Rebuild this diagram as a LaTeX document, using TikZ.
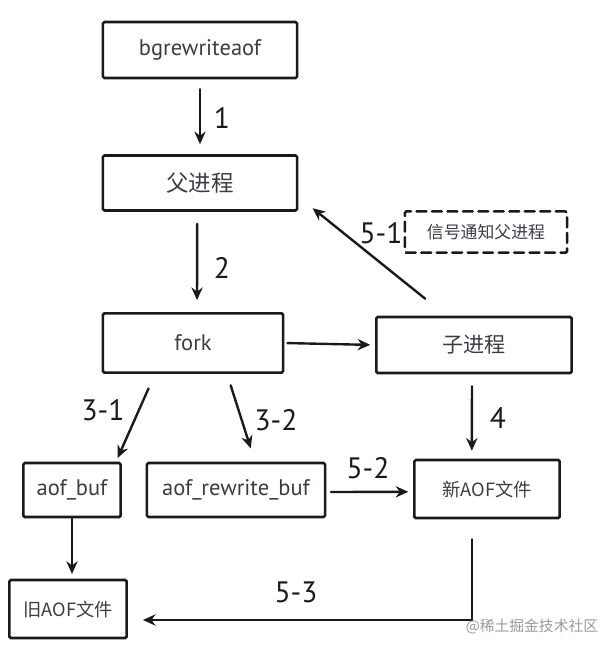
\documentclass[tikz,border=0pt]{standalone}
\usepackage{fontspec}
\setmainfont{PT Sans}
\newfontfamily\cjk{Noto Sans CJK SC}
\usetikzlibrary{arrows.meta}
\definecolor{ink}{HTML}{1A1A1A}
\definecolor{txt}{HTML}{3A3D45}
\definecolor{mark}{HTML}{9A9A9A}

\begin{document}
\begin{tikzpicture}[x=0.025cm,y=-0.025cm,>={Stealth[length=9pt,width=8pt]},line cap=round,
    box/.style={draw=ink,line width=1.8pt,rounded corners=1pt,text=txt,inner sep=0pt},
    link/.style={->,draw=ink,line width=1.7pt},
    num/.style={text=ink,font=\fontsize{21}{24}\selectfont}]
  \useasboundingbox (0,0) rectangle (600,651);
  % boxes
  \node[box,minimum width=4.85cm,minimum height=1.4cm,font=\fontsize{16}{18}\selectfont]
    (bg) at (200,50) {bgrewriteaof};
  \node[box,minimum width=4.85cm,minimum height=1.375cm,font=\cjk\fontsize{16}{18}\selectfont]
    (fa) at (200,183) {父进程};
  \node[box,minimum width=4.5cm,minimum height=1.48cm,font=\fontsize{16}{18}\selectfont]
    (fork) at (193,343) {fork};
  \node[box,minimum width=4.88cm,minimum height=1.4cm,font=\cjk\fontsize{15}{18}\selectfont]
    (zi) at (474,345) {子进程};
  \node[box,dash pattern=on 7pt off 4pt,minimum width=4.05cm,minimum height=1.03cm,
    font=\cjk\fontsize{12}{14}\selectfont] (sig) at (486,232) {信号通知父进程};
  \node[box,minimum width=2.43cm,minimum height=1.35cm,font=\fontsize{16}{18}\selectfont]
    (aofbuf) at (72,490) {aof\_buf};
  \node[box,minimum width=4.45cm,minimum height=1.35cm,font=\fontsize{16}{18}\selectfont]
    (rwbuf) at (236,490) {aof\_rewrite\_buf};
  \node[box,minimum width=3.63cm,minimum height=1.45cm,font=\cjk\fontsize{13}{15}\selectfont]
    (newaof) at (487,489) {新AOF文件};
  \node[box,minimum width=2.93cm,minimum height=1.45cm,font=\cjk\fontsize{13}{15}\selectfont]
    (oldaof) at (68,609) {旧AOF文件};

  % arrows
  \draw[link,shorten <=0.25cm,shorten >=0.25cm] (bg.south) -- (fa.north);
  \draw[link,shorten <=0.3cm,shorten >=0.3cm] ([xshift=-0.07cm]fa.south) -- ([xshift=0.1cm]fork.north);
  \draw[link,shorten <=0.08cm,shorten >=0.12cm] (fork.east) -- (zi.west);
  \draw[link,shorten <=0.4cm,shorten >=0.1cm] ([xshift=-0.95cm]fork.south) -- ([xshift=1.1cm]aofbuf.north);
  \draw[link,shorten <=0.3cm,shorten >=0.35cm] ([xshift=0.85cm]fork.south) -- ([xshift=0.475cm]rwbuf.north);
  \draw[link,shorten >=0.05cm] ([xshift=-1.22cm,yshift=0.425cm]zi.north) -- ([xshift=0.32cm,yshift=0.12cm]fa.south east);
  \draw[link,shorten <=0.3cm,shorten >=0.2cm] ([xshift=-0.05cm]zi.south) -- ([xshift=-0.38cm]newaof.north);
  \draw[link,shorten <=0.12cm,shorten >=0.12cm] ([yshift=-0.05cm]rwbuf.east) -- ([yshift=-0.07cm]newaof.west);
  \draw[link,shorten >=0.12cm] (aofbuf.south) -- (aofbuf.south |- oldaof.north);
  \coordinate (from53) at ([xshift=-0.375cm,yshift=-0.5cm]newaof.south);
  \draw[link] (from53) |- ([xshift=0.375cm,yshift=-0.275cm]oldaof.east);

  % labels
  \node[num] (l1) at (222,118) {1};
  \node[num] (l2) at (222,268) {2};
  \node[num] (l31) at (103,410) {3-1};
  \node[num] (l32) at (276,420) {3-2};
  \node[num] (l4) at (498,418) {4};
  \node[num] (l51) at (381,233) {5-1};
  \node[num] (l52) at (368,468) {5-2};
  \node[num] (l53) at (296,592) {5-3};
  \node[text=mark,font=\cjk\fontsize{10.5}{12}\selectfont] (wm) at (532,627) {@稀土掘金技术社区};
\end{tikzpicture}
\end{document}
